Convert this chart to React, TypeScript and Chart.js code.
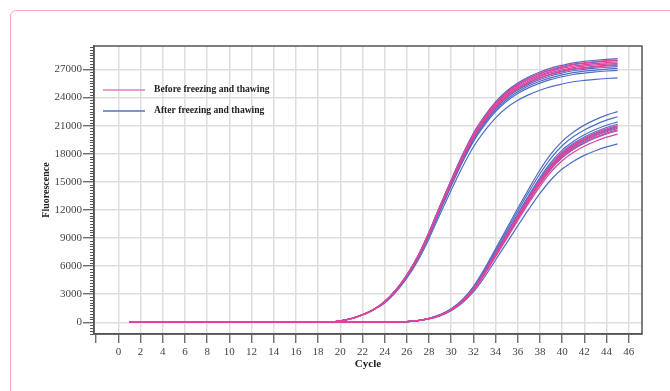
import React, { useEffect, useRef } from "react";
import { Chart, registerables } from "chart.js";

Chart.register(...registerables);

const FONT = "'Liberation Serif', 'Times New Roman', serif";

const CYCLES = [
  1, 2, 3, 4, 5, 6, 7, 8, 9, 10, 11, 12, 13, 14, 15, 16, 17, 18, 19, 20, 21, 22, 23,
  24, 25, 26, 27, 28, 29, 30, 31, 32, 33, 34, 35, 36, 37, 38, 39, 40, 41, 42, 43, 44, 45,
];

const X_TICKS = [-2, 0, 2, 4, 6, 8, 10, 12, 14, 16, 18, 20, 22, 24, 26, 28, 30, 32, 34, 36, 38, 40, 42, 44, 46];
const Y_TICKS = [0, 3000, 6000, 9000, 12000, 15000, 18000, 21000, 24000, 27000];

const LEGEND_LABELS = ["Before freezing and thawing", "After freezing and thawing"];
const BEFORE_COLOR = "#e0449a";
const AFTER_COLOR = "#4d6ec4";

// Early-rising group: shared lag phase, cycles 1-23
const LAG_EARLY = [0, 0, 0, 0, 0, 0, 0, 0, 0, 0, 0, 0, 0, 0, 0, 0, 0, 0, 30, 150, 400, 800, 1350];
// Early group, cycles 24-45
const EARLY_AFTER = [
  [2230, 3450, 5070, 7100, 9640, 12480, 15220, 17850, 20190, 22010, 23530, 24700, 25560, 26220, 26730, 27140, 27440, 27690, 27850, 27980, 28080, 28150],
  [2220, 3420, 5040, 7050, 9570, 12390, 15110, 17730, 20040, 21860, 23370, 24530, 25380, 26040, 26540, 26940, 27250, 27500, 27650, 27780, 27880, 27950],
  [2180, 3370, 4960, 6940, 9410, 12190, 14870, 17440, 19720, 21510, 22990, 24130, 24970, 25620, 26110, 26510, 26810, 27050, 27200, 27330, 27430, 27500],
  [2160, 3340, 4920, 6890, 9350, 12100, 14760, 17320, 19580, 21350, 22820, 23960, 24790, 25430, 25920, 26320, 26610, 26860, 27010, 27130, 27230, 27300],
  [2150, 3320, 4880, 6840, 9280, 12010, 14650, 17190, 19430, 21190, 22660, 23780, 24610, 25250, 25730, 26120, 26420, 26660, 26810, 26930, 27030, 27100],
  [2130, 3300, 4850, 6790, 9210, 11920, 14540, 17060, 19290, 21040, 22490, 23600, 24430, 25060, 25540, 25930, 26220, 26460, 26610, 26740, 26830, 26900],
  [2070, 3200, 4700, 6580, 8930, 11570, 14110, 16550, 18720, 20410, 21820, 22900, 23700, 24310, 24780, 25160, 25440, 25680, 25820, 25940, 26030, 26100],
];
const EARLY_BEFORE = [
  [2220, 3430, 5050, 7060, 9590, 12410, 15140, 17760, 20080, 21900, 23410, 24570, 25430, 26080, 26590, 26990, 27290, 27550, 27700, 27830, 27930, 28000],
  [2200, 3410, 5010, 7010, 9520, 12320, 15030, 17630, 19940, 21740, 23240, 24390, 25250, 25900, 26400, 26800, 27100, 27350, 27500, 27630, 27730, 27800],
  [2190, 3390, 4980, 6970, 9470, 12260, 14950, 17540, 19830, 21620, 23120, 24260, 25110, 25760, 26260, 26650, 26950, 27200, 27350, 27480, 27580, 27650],
  [2180, 3360, 4950, 6920, 9400, 12170, 14840, 17410, 19690, 21470, 22950, 24090, 24930, 25570, 26070, 26460, 26760, 27010, 27150, 27280, 27380, 27450],
];

// Late-rising group: shared lag phase, cycles 1-27
const LAG_LATE = [0, 0, 0, 0, 0, 0, 0, 0, 0, 0, 0, 0, 0, 0, 0, 0, 0, 0, 0, 0, 0, 0, 0, 0, 20, 70, 180];
// Late group, cycles 28-45
const LATE_AFTER = [
  [430, 820, 1450, 2420, 3820, 5710, 7860, 10010, 12170, 14260, 16260, 17980, 19320, 20290, 21050, 21640, 22120, 22500],
  [420, 800, 1420, 2360, 3730, 5570, 7670, 9770, 11870, 13920, 15860, 17540, 18850, 19800, 20530, 21110, 21580, 21950],
  [410, 780, 1380, 2300, 3630, 5430, 7470, 9520, 11570, 13570, 15460, 17100, 18380, 19300, 20020, 20580, 21040, 21400],
  [400, 770, 1370, 2280, 3590, 5360, 7390, 9410, 11440, 13410, 15280, 16900, 18170, 19080, 19780, 20340, 20800, 21150],
  [400, 760, 1350, 2250, 3550, 5300, 7300, 9300, 11300, 13250, 15100, 16700, 17950, 18850, 19550, 20100, 20550, 20900],
  [400, 750, 1340, 2230, 3520, 5250, 7230, 9210, 11190, 13120, 14960, 16540, 17780, 18670, 19360, 19910, 20350, 20700],
  [390, 740, 1320, 2200, 3470, 5190, 7140, 9100, 11060, 12970, 14780, 16340, 17560, 18450, 19130, 19670, 20110, 20450],
  [360, 690, 1230, 2050, 3240, 4830, 6650, 8480, 10300, 12080, 13760, 15220, 16360, 17180, 17820, 18320, 18730, 19050],
];
const LATE_BEFORE = [
  [400, 760, 1360, 2260, 3570, 5330, 7340, 9340, 11350, 13310, 15170, 16780, 18040, 18940, 19640, 20200, 20650, 21000],
  [400, 760, 1340, 2240, 3530, 5270, 7270, 9260, 11250, 13190, 15030, 16620, 17860, 18760, 19460, 20000, 20450, 20800],
  [390, 750, 1330, 2210, 3490, 5210, 7180, 9140, 11110, 13030, 14850, 16420, 17650, 18540, 19220, 19760, 20210, 20550],
  [380, 730, 1300, 2160, 3410, 5100, 7020, 8940, 10870, 12740, 14520, 16060, 17260, 18130, 18800, 19330, 19760, 20100],
];

function makeDataset(lag: number[], tail: number[], color: string, width: number) {
  const values = lag.concat(tail);
  return {
    data: CYCLES.map((c, i) => ({ x: c, y: values[i] })),
    borderColor: color,
    borderWidth: width,
    pointRadius: 0,
    fill: false,
    cubicInterpolationMode: "monotone" as const,
  };
}

const frameAndLegend = {
  id: "frameAndLegend",
  afterDraw(chart: any) {
    const { ctx, chartArea } = chart;
    const yScale = chart.scales.y;
    ctx.save();
    // minor ticks on y axis
    ctx.strokeStyle = "#555";
    ctx.lineWidth = 1;
    for (let v = -1200; v <= 29400; v += 300) {
      if (v % 3000 === 0) continue;
      const py = Math.round(yScale.getPixelForValue(v)) + 0.5;
      ctx.beginPath();
      ctx.moveTo(chartArea.left - 4, py);
      ctx.lineTo(chartArea.left, py);
      ctx.stroke();
    }
    // frame
    ctx.strokeStyle = "#555";
    ctx.lineWidth = 1.5;
    ctx.strokeRect(chartArea.left, chartArea.top, chartArea.right - chartArea.left, chartArea.bottom - chartArea.top);
    // legend
    LEGEND_LABELS.forEach((label, i) => {
      const y = chartArea.top + 44 + i * 21;
      ctx.strokeStyle = i === 0 ? "#e77db5" : "#5572c2";
      ctx.lineWidth = 1.5;
      ctx.beginPath();
      ctx.moveTo(chartArea.left + 9, y);
      ctx.lineTo(chartArea.left + 51, y);
      ctx.stroke();
      ctx.fillStyle = "#222";
      ctx.font = `bold 9.6px ${FONT}`;
      ctx.textBaseline = "middle";
      ctx.textAlign = "left";
      ctx.fillText(label, chartArea.left + 60, y);
    });
    ctx.restore();
  },
};

export default function App() {
  const ref = useRef<HTMLCanvasElement>(null);
  useEffect(() => {
    if (!ref.current) return;
    // Chart.js paints dataset 0 last (on top), so the pink "before" curves come first
    const datasets = [
      ...EARLY_BEFORE.map((t) => makeDataset(LAG_EARLY, t, BEFORE_COLOR, 1.3)),
      ...LATE_BEFORE.map((t) => makeDataset(LAG_LATE, t, BEFORE_COLOR, 1.3)),
      ...EARLY_AFTER.map((t) => makeDataset(LAG_EARLY, t, AFTER_COLOR, 1.2)),
      ...LATE_AFTER.map((t) => makeDataset(LAG_LATE, t, AFTER_COLOR, 1.2)),
    ];
    const chart = new Chart(ref.current, {
      type: "line",
      data: { datasets },
      plugins: [frameAndLegend],
      options: {
        animation: false,
        responsive: false,
        devicePixelRatio: 1,
        layout: { padding: { left: 0, right: 28, top: 46, bottom: 0 } },
        plugins: { legend: { display: false }, tooltip: { enabled: false } },
        scales: {
          x: {
            type: "linear",
            min: -2.2,
            max: 47.2,
            afterBuildTicks: (s: any) => {
              s.ticks = X_TICKS.map((v) => ({ value: v }));
            },
            afterFit: (s: any) => {
              s.height = 57;
            },
            ticks: {
              autoSkip: false,
              maxRotation: 0,
              padding: 3,
              color: "#444",
              font: { family: FONT, size: 11 },
              callback: (v: any) => (v === -2 ? "" : String(v)),
            },
            grid: {
              color: (c: any) => (c.tick && c.tick.value === -2 ? "rgba(0,0,0,0)" : "#dedede"),
              lineWidth: 1.5,
              tickLength: 9,
              tickColor: "#555",
              tickWidth: 1.2,
            },
            border: { color: "#555", width: 1.5 },
            title: {
              display: true,
              text: "Cycle",
              color: "#222",
              font: { family: FONT, size: 11, weight: "bold" },
              padding: { top: 0, bottom: 20 },
            },
          },
          y: {
            type: "linear",
            min: -1250,
            max: 29500,
            afterBuildTicks: (s: any) => {
              s.ticks = Y_TICKS.map((v) => ({ value: v }));
            },
            afterFit: (s: any) => {
              s.width = 94;
            },
            ticks: {
              padding: 1,
              color: "#444",
              font: { family: FONT, size: 11 },
              callback: (v: any) => String(v),
            },
            grid: {
              color: "#dedede",
              lineWidth: 1.5,
              tickLength: 11,
              tickColor: "#555",
              tickWidth: 1.2,
            },
            border: { color: "#555", width: 1.5 },
            title: {
              display: true,
              text: "Fluorescence",
              color: "#222",
              font: { family: FONT, size: 10, weight: "bold" },
              padding: { top: 40, bottom: 0 },
            },
          },
        },
      },
    });
    return () => chart.destroy();
  }, []);

  return (
    <div style={{ position: "absolute", left: 0, top: 0, width: 670, height: 391, overflow: "hidden", background: "#fff" }}>
      <div
        style={{
          position: "absolute",
          left: 10,
          top: 10,
          width: 700,
          height: 420,
          border: "1.5px solid #f6a8cc",
          borderRadius: 6,
          boxSizing: "border-box",
        }}
      />
      <canvas ref={ref} width={670} height={391} style={{ position: "absolute", left: 0, top: 0 }} />
    </div>
  );
}
